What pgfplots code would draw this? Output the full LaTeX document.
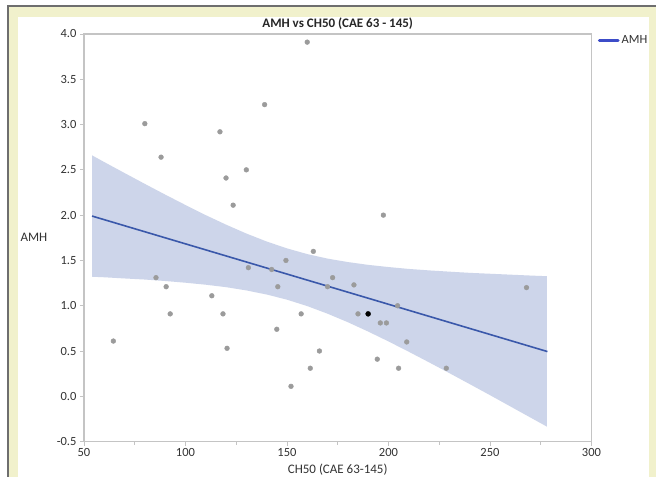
\documentclass[border=0pt]{standalone}
\usepackage{fontspec}
\setmainfont{Carlito}
\usepackage{pgfplots}
\pgfplotsset{compat=1.18}
\definecolor{bg}{RGB}{241,241,204}
\definecolor{frame}{RGB}{110,110,110}
\definecolor{axisgray}{RGB}{196,196,196}
\definecolor{band}{RGB}{205,213,234}
\definecolor{fitline}{RGB}{58,88,170}
\definecolor{legline}{RGB}{60,76,200}
\definecolor{dotgray}{RGB}{155,155,155}
\definecolor{txt}{RGB}{50,50,50}
\begin{document}
\begin{tikzpicture}[x=1pt,y=1pt]
% panel background
\fill[white] (0,0) rectangle (657,477);
\fill[bg] (8,0) rectangle (657,471);
\draw[frame, line width=1.2pt] (8,0) -- (8,471) -- (657,471);
\fill[white] (18,0) rectangle (650,460);
\begin{axis}[
    at={(84pt,35pt)}, anchor=south west,
    scale only axis, width=508pt, height=408pt,
    xmin=50, xmax=300, ymin=-0.5, ymax=4.0,
    xtick={50,100,...,300}, minor xtick={75,125,...,275},
    ytick={-0.5,0,0.5,1,1.5,2,2.5,3,3.5,4},
    tick align=outside, tick pos=left,
    major tick length=4pt, minor tick length=3pt,
    axis line style={axisgray, line width=1.2pt},
    tick style={axisgray, line width=0.8pt},
    tick label style={font=\fontsize{12.5}{13}\selectfont, text=txt},
    xticklabel style={yshift=1pt},
    /pgf/number format/assume math mode=true,
    yticklabel style={/pgf/number format/.cd, fixed, fixed zerofill, precision=1},
    xticklabel style={/pgf/number format/.cd, fixed, precision=0},
    legend style={at={(1.012,0.985)}, anchor=west, draw=none, fill=none,
        font=\fontsize{12.5}{13}\selectfont, text=txt, inner sep=0pt},
  ]
  % confidence band
  \addplot[fill=band, draw=none, forget plot] coordinates {
    (54,2.660)(60,2.586)(70,2.465)(80,2.345)(90,2.227)(100,2.112)(110,2.000)
    (120,1.895)(130,1.797)(140,1.709)(150,1.633)(160,1.570)(170,1.520)
    (180,1.482)(190,1.451)(200,1.427)(210,1.406)(220,1.390)(230,1.376)
    (240,1.363)(250,1.353)(260,1.343)(270,1.333)(278,1.326)
    (278,-0.334)(270,-0.235)(260,-0.111)(250,0.013)(240,0.135)(230,0.256)
    (220,0.375)(210,0.492)(200,0.606)(190,0.715)(180,0.818)(170,0.912)
    (160,0.996)(150,1.067)(140,1.124)(130,1.169)(120,1.205)(110,1.232)
    (100,1.254)(90,1.273)(80,1.289)(70,1.301)(60,1.314)(54,1.320)
  } --cycle;
  % fit line
  \addplot[fitline, line width=1.6pt,
    legend image code/.code={\draw[legline, line width=3pt, line cap=round] (0pt,0pt) -- (19pt,0pt);}]
    coordinates {(54,1.99)(278.3,0.494)};
  \addlegendentry{AMH}
  % data points
  \addplot[only marks, mark=*, mark size=2.4pt, dotgray, forget plot] coordinates {
    (160,3.91)(139,3.22)(80,3.01)(117,2.92)(88,2.64)(130,2.50)(120,2.41)
    (123.5,2.11)(197.5,2.00)(163,1.60)(149.5,1.50)(131,1.42)(142.5,1.40)
    (172.5,1.31)(85.5,1.31)(90.5,1.21)(145.5,1.21)(170,1.21)(183,1.23)
    (268,1.20)(113,1.11)(185,0.91)(118.5,0.91)(92.5,0.91)(157,0.91)
    (204.5,1.00)(196,0.81)(199,0.81)(64.5,0.61)(209,0.60)(145,0.74)
    (120.5,0.53)(166,0.50)(194.5,0.41)(161.5,0.31)(205,0.31)(228.5,0.31)
    (152,0.11)
  };
  \addplot[only marks, mark=*, mark size=2.5pt, black, forget plot] coordinates {(190,0.91)};
\end{axis}
\node[font=\bfseries\fontsize{13}{14}\selectfont, text=black!85] at (338,453) {AMH vs CH50 (CAE 63 - 145)};
\node[font=\fontsize{13}{14}\selectfont, text=txt] at (34,239) {AMH};
\node[font=\fontsize{13}{14}\selectfont, text=txt] at (338,7) {CH50 (CAE 63-145)};
\end{tikzpicture}
\end{document}
